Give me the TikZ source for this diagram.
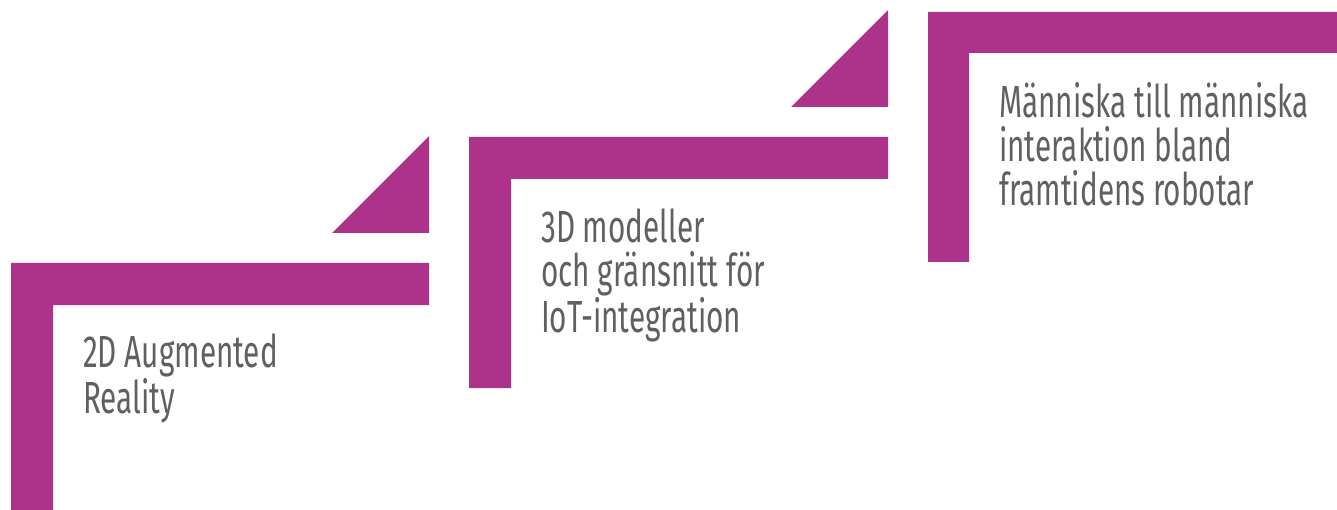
\documentclass[tikz,border=0pt]{standalone}
\usepackage{fontspec}
\setmainfont{Fira Sans}[FakeStretch=0.66]
\definecolor{stepcolor}{RGB}{173,51,138}
\definecolor{labelgray}{RGB}{96,96,96}
\tikzset{
  band/.style={fill=stepcolor},
  steplabel/.style={anchor=base west, align=left, inner sep=0pt,
    text=labelgray, font=\fontsize{45}{44}\selectfont}
}

\begin{document}
\begin{tikzpicture}[x=1pt, y=-1pt]
\useasboundingbox (0,0) rectangle (1337,510);
% first step
\fill[band] (11,510) |- (429,263) -- (429,305) -| (53,510) -- cycle;
\fill[band] (332,233) -- (429,233) -- (429,136) -- cycle;
% second step
\fill[band] (469,388) |- (888,137) -- (888,179) -| (511,388) -- cycle;
\fill[band] (791,107) -- (888,107) -- (888,10) -- cycle;
% third step
\fill[band] (928,262) |- (1337,12) -- (1337,53) -| (969,262) -- cycle;

% base anchor sits on the last line
\node[steplabel] (ar)    at (83,413)  {2D Augmented\\Reality};
\node[steplabel] (iot)   at (541,332) {3D modeller\\och gränsnitt för\\IoT-integration};
\node[steplabel] (robot) at (999,206) {Människa till människa\\interaktion bland\\framtidens robotar};
\end{tikzpicture}
\end{document}
